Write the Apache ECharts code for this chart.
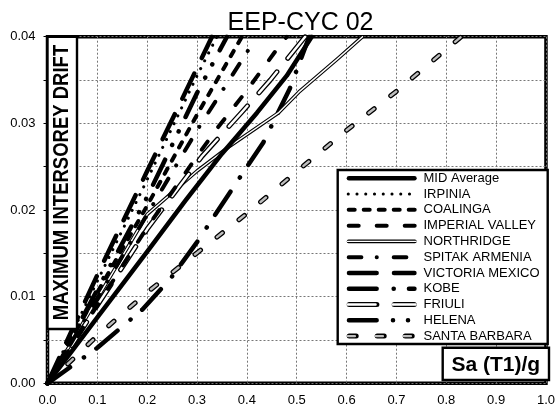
<!DOCTYPE html>
<html><head><meta charset="utf-8">
<script src="https://cdn.jsdelivr.net/npm/echarts@6/dist/echarts.min.js"></script>
<style>html,body{margin:0;padding:0;background:#fff}#c{width:558px;height:408px}</style>
</head><body><div id="c"></div>
<script>
// ---- data (Sa(T1)/g , maximum interstorey drift) ----
const xTicks = [0,0.1,0.2,0.3,0.4,0.5,0.6,0.7,0.8,0.9,1.0];
const yTicks = [0,0.01,0.02,0.03,0.04];
const midAverage = [[0,0],[0.1,0.0076],[0.2,0.0152],[0.277,0.0211],[0.35,0.0265],[0.42,0.0312],[0.48,0.0355],[0.53,0.04]];
const irpinia = [[0,0],[0.1,0.0118],[0.2,0.0235],[0.3,0.0355],[0.34,0.04]];
const coalinga = [[0,0],[0.1,0.0105],[0.2,0.0205],[0.3,0.031],[0.39,0.04]];
const imperialValley = [[0,0],[0.1,0.009],[0.2,0.018],[0.3,0.0262],[0.34,0.0294],[0.4,0.0338],[0.457,0.0383],[0.48,0.04]];
const northridge = [[0,0],[0.1,0.0098],[0.2,0.0195],[0.25,0.022],[0.3,0.0245],[0.364,0.0273],[0.463,0.0312],[0.504,0.0336],[0.583,0.0375],[0.632,0.04]];
const spitakArmenia = [[0,0],[0.1,0.0098],[0.2,0.0195],[0.3,0.0292],[0.37,0.0355],[0.42,0.04]];
const victoriaMexico = [[0,0],[0.1,0.0125],[0.2,0.0245],[0.27,0.0328],[0.33,0.04]];
const kobe = [[0,0],[0.1,0.0041],[0.19,0.0085],[0.247,0.0121],[0.3,0.0163],[0.383,0.0235],[0.433,0.0278],[0.486,0.034],[0.525,0.04]];
const friuli = [[0,0],[0.1,0.009],[0.2,0.0178],[0.31,0.0262],[0.39,0.0313],[0.447,0.035],[0.51,0.0395],[0.517,0.04]];
const helena = [[0,0],[0.1,0.0108],[0.2,0.0215],[0.3,0.0335],[0.36,0.04]];
const santaBarbara = [[0,0],[0.1,0.0055],[0.2,0.0105],[0.4,0.0196],[0.52,0.0254],[0.6,0.0292],[0.7,0.0337],[0.83,0.04]];

const names = ['MID Average','IRPINIA','COALINGA','IMPERIAL VALLEY','NORTHRIDGE','SPITAK ARMENIA','VICTORIA MEXICO','KOBE','FRIULI','HELENA','SANTA BARBARA'];
const dataSets = [midAverage,irpinia,coalinga,imperialValley,northridge,spitakArmenia,victoriaMexico,kobe,friuli,helena,santaBarbara];

// line styles (layers drawn bottom -> top)
const B='#000', W='#fff';
const styles = [
  [{c:B,w:4.5,d:'solid'}],
  [{c:B,w:3,d:[0.1,8.65]}],
  [{c:B,w:4,d:[6,9]}],
  [{c:B,w:4,d:[10,18]}],
  [{c:B,w:3.6,d:'solid'},{c:W,w:1.4,d:'solid'}],
  [{c:B,w:4,d:[12.7,15.3,0.1,16.9]}],
  [{c:B,w:4.5,d:[27.7,17.3]}],
  [{c:B,w:4.5,d:[27.7,17,0.1,15.2]}],
  [{c:B,w:5,d:[27.7,17.3]},{c:W,w:2.4,d:[27.7,17.3]}],
  [{c:B,w:4.5,d:[27.7,16.3,0.1,14.9,0.1,15.9]}],
  [{c:B,w:5,d:[7,21]},{c:'#bdbdbd',w:2.4,d:[7,21]}]
];
const drawOrder = [10,7,4,8,3,5,2,9,6,1,0];

const FONT = '"Liberation Sans", Arial, sans-serif';
const series = [];
drawOrder.forEach((k, oi) => {
  styles[k].forEach((l, li) => {
    series.push({
      type:'line', name: names[k], data: dataSets[k], symbol:'none', showSymbol:false,
      silent:true, animation:false, z: 2 + oi*0.01 + li*0.001, zlevel:0,
      lineStyle:{color:l.c, width:l.w, type:l.d, cap:'round', join:'round'}
    });
  });
});

// legend drawn as graphics
const graphics = [];
const lgX0 = 346.7, lgX1 = 416.7, lgY0 = 178.3, lgDY = 15.78;
graphics.push({type:'rect', z:100, shape:{x:337.7,y:170,width:210,height:174}, style:{fill:'#fff',stroke:'#000',lineWidth:2.4}});
names.forEach((n,i) => {
  const y = lgY0 + i*lgDY;
  styles[i].forEach(l => {
    graphics.push({type:'line', z:101, shape:{x1:lgX0 + l.w/2, y1:y, x2:lgX1 - l.w/2, y2:y},
      style:{stroke:l.c, lineWidth:l.w, lineDash: l.d==='solid'?null:l.d, lineCap:'round'}});
  });
  graphics.push({type:'text', z:101, x:423.5, y:y, style:{text:n, fill:'#000', font:'13px '+FONT, align:'left', verticalAlign:'middle'}});
});
// y label box
graphics.push({type:'rect', z:100, shape:{x:47.5,y:36.7,width:29.5,height:292.3}, style:{fill:'#fff',stroke:'#000',lineWidth:2.4}});
graphics.push({type:'text', z:101, x:62.5, y:182.5, rotation:Math.PI/2, scaleY:1.15,
  style:{text:'MAXIMUM INTERSOREY DRIFT', fill:'#000', font:'bold 18.5px '+FONT, align:'center', verticalAlign:'middle'}});
// x label box
graphics.push({type:'rect', z:100, shape:{x:442.7,y:347.7,width:106.3,height:32.3}, style:{fill:'#fff',stroke:'#000',lineWidth:2.4}});
graphics.push({type:'text', z:101, x:495.8, y:365, style:{text:'Sa (T1)/g', fill:'#000', font:'bold 21px '+FONT, align:'center', verticalAlign:'middle'}});
// title
graphics.push({type:'text', z:101, x:300.5, y:23, style:{text:'EEP-CYC 02', fill:'#000', font:'25px '+FONT, align:'center', verticalAlign:'middle'}});

const isMajor = v => Math.abs(v*100 - Math.round(v*100)) < 1e-6;
const gridStyle = {color:'#777777', type:[2,2], width:1, opacity:1};
const chart = echarts.init(document.getElementById('c'), null, {renderer:'canvas'});
chart.setOption({
  animation:false,
  backgroundColor:'#fff',
  grid:{left:47.5, right:9, top:36.7, bottom:24.7, show:true, borderColor:'#000', borderWidth:3.5},
  xAxis:{type:'value', min:xTicks[0], max:xTicks[xTicks.length-1], interval:0.1,
    axisLine:{show:false}, axisTick:{show:false},
    axisLabel:{color:'#000', fontSize:13, fontFamily:FONT, margin:11, formatter:v=>v.toFixed(1)},
    splitLine:{show:true, lineStyle:gridStyle}},
  yAxis:{type:'value', min:yTicks[0], max:yTicks[yTicks.length-1], interval:0.005,
    axisLine:{show:false}, axisTick:{show:true, length:4, lineStyle:{color:'#000', width:1}},
    axisLabel:{color:'#000', fontSize:13, fontFamily:FONT, margin:12, formatter:v=> isMajor(v) ? v.toFixed(2) : ''},
    splitLine:{show:true, lineStyle:gridStyle}},
  series: series,
  graphic: graphics
});
</script></body></html>
